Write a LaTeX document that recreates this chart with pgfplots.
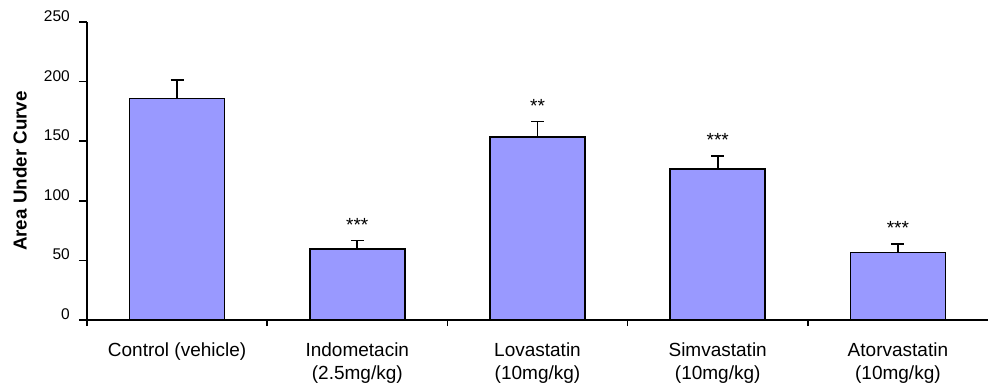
\documentclass[border=0pt]{standalone}
\usepackage{fontspec}
\setmainfont{Liberation Sans}
\usepackage{pgfplots}
\pgfplotsset{compat=1.18}
\definecolor{barfill}{RGB}{153,153,255}
\begin{document}
\begin{tikzpicture}
\begin{axis}[
  name=ax,
  scale only axis, width=901bp, height=298bp,
  xmin=-0.5, xmax=4.5, ymin=0, ymax=250,
  axis x line=bottom, axis y line=left,
  axis line style={line width=1.7bp, -},
  ytick={0,50,...,250},
  xtick={0,1,2,3,4},
  xticklabels={Control (vehicle),{Indometacin\\(2.5mg/kg)},{Lovastatin\\(10mg/kg)},{Simvastatin\\(10mg/kg)},{Atorvastatin\\(10mg/kg)}},
  minor xtick={-0.5,0.5,1.5,2.5,3.5},
  tick align=outside,
  major tick length=8bp,
  minor tick length=6bp,
  tick style={line width=1.5bp, black},
  major x tick style={draw=none},
  /pgf/number format/assume math mode=true,
  yticklabel style={font=\fontsize{15.5bp}{18bp}\selectfont, anchor=base east, inner sep=0pt, xshift=-9bp, yshift=0.5bp},
  xticklabel style={font=\fontsize{19bp}{23bp}\selectfont, align=center, anchor=north, inner sep=0pt, yshift=-15bp},
  ylabel={\bfseries Area Under Curve},
  ylabel style={font=\fontsize{18.8bp}{22bp}\selectfont, at={(axis description cs:-0.0744,0.5)}, anchor=center},
]
\addplot[ybar, bar width=95bp, fill=barfill, draw=black, line width=1.7bp,
  error bars/.cd, y dir=plus, y explicit,
  error bar style={line width=1.7bp, black},
  error mark options={rotate=90, mark size=6.5bp, line width=1.7bp, black}]
  coordinates {(0,185.9) +- (0,15.7) (1,59.6) +- (0,7.2) (2,153.5) +- (0,13.1) (3,126.7) +- (0,11.1) (4,56.7) +- (0,7.3)};
\addplot[only marks, mark=none, nodes near coords, point meta=explicit symbolic,
  nodes near coords style={anchor=base, inner sep=0pt, yshift=9bp, font=\fontsize{19bp}{22bp}\selectfont}]
  coordinates {(1,66.8)[***] (2,166.6)[**] (3,137.8)[***] (4,64)[***]};
\end{axis}
\pgfresetboundingbox
\path ([xshift=-87bp,yshift=-71bp]ax.south west) rectangle ([yshift=22bp]ax.north east);
\end{tikzpicture}
\end{document}
